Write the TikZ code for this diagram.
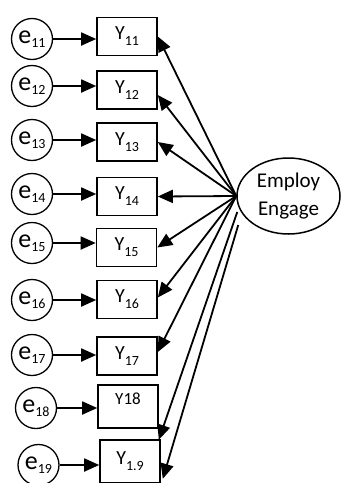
\documentclass[tikz,border=0pt]{standalone}
\usepackage{fontspec}
\setmainfont{Carlito}
\usetikzlibrary{arrows.meta,calc,shapes.geometric}

% lowered index after a variable letter
\newcommand{\lowsub}[2][-6pt]{\raisebox{#1}{\fontsize{14}{14}\selectfont #2}}

\begin{document}
\begin{tikzpicture}[x=1pt,y=-1pt,
  evar/.style={circle, draw, line width=1.3pt, minimum size=41pt, inner sep=0pt,
               font=\fontsize{26}{26}\selectfont},
  obs/.style={rectangle, draw, line width=1.6pt, minimum width=60pt, minimum height=38pt,
              inner sep=0pt, font=\fontsize{20}{20}\selectfont},
  lat/.style={ellipse, draw, line width=1.5pt, minimum width=103pt, minimum height=76pt,
              inner sep=0pt, align=center, font=\fontsize{21}{28}\selectfont},
  load/.style={line width=1.8pt, -{Triangle[length=15pt,width=13pt]}}
]
\useasboundingbox (0,0) rectangle (341,483);

% error terms
\node[evar] (e11) at (32,39)  {e\lowsub[-4pt]{11}};
\node[evar] (e12) at (32,86)  {e\lowsub[-4pt]{12}};
\node[evar] (e13) at (32,140) {e\lowsub[-4pt]{13}};
\node[evar] (e14) at (32,194) {e\lowsub[-4pt]{14}};
\node[evar] (e15) at (32,243) {e\lowsub[-4pt]{15}};
\node[evar] (e16) at (32,300) {e\lowsub[-4pt]{16}};
\node[evar] (e17) at (32,355) {e\lowsub[-4pt]{17}};
\node[evar] (e18) at (36,408) {e\lowsub[-4pt]{18}};
\node[evar] (e19) at (38.5,465) {e\lowsub[-4pt]{19}};

% indicators
\node[obs] (Y11) at (127,36.5)  {Y\lowsub{11}};
\node[obs] (Y12) at (127,90)    {Y\lowsub{12}};
\node[obs] (Y13) at (127,142)   {Y\lowsub{13}};
\node[obs] (Y14) at (127,196.5) {Y\lowsub{14}};
\node[obs] (Y15) at (126.5,247.5) {Y\lowsub{15}};
\node[obs] (Y16) at (127,299.5) {Y\lowsub{16}};
\node[obs] (Y17) at (127,356)   {Y\lowsub{17}};
\node[obs, minimum height=43pt, text height=13pt, text depth=17pt,
      font=\fontsize{17}{17}\selectfont] (Y18) at (128,406.5) {Y18};
\node[obs, minimum height=43pt] (Y19) at (130,461.5) {Y\lowsub{1.9}};

% latent factor
\node[lat] (E) at (288.5,196) {Employ\\Engage};
\coordinate (s18) at ($(E.west)+(1,16)$);
\coordinate (s19) at ($(E.west)+(2,29)$);

% error paths
\foreach \i in {11,...,19}
  \draw[load] (e\i.east) -- (e\i.east -| Y\i.west);

% factor loadings
\draw[load] (E.west) -- (Y11.east);
\draw[load] (E.west) -- ($(Y12.east)+(0,5)$);
\draw[load] (E.west) -- (Y13.east);
\draw[load] (E.west) -- (Y14.east);
\draw[load] (E.west) -- (Y15.east);
\draw[load] (E.west) -- ($(Y16.east)+(0,-2)$);
\draw[load] (E.west) -- ($(Y17.east)+(0,-4)$);
\draw[load] (s18) -- ($(Y18.south east)+(0,11)$);
\draw[load] (s19) -- ($(Y19.south east)+(2,-5)$);
\end{tikzpicture}
\end{document}
